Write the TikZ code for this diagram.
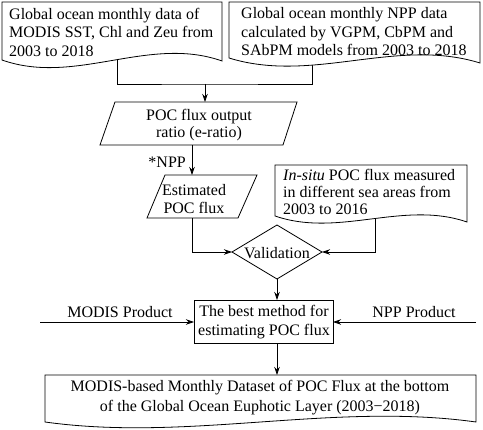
\documentclass[tikz,border=0pt]{standalone}
\usepackage{fontspec}
\setmainfont{Liberation Serif}
\usetikzlibrary{arrows.meta}
\pgfdeclarelayer{bg}
\pgfdeclarelayer{canvas}
\pgfsetlayers{canvas,bg,main}
% document shape: x0, x1, ytop, yleft-bottom, yright-bottom, wave height
\newcommand\docpath[6]{\draw[shp] (#1,#3) -- (#2,#3) -- (#2,#5) .. controls ({#1+2*(#2-#1)/3},{#5-#6}) and ({#1+(#2-#1)/3},{#4+#6}) .. (#1,#4) -- cycle;}
\begin{document}
\begin{tikzpicture}[x=1pt,y=-1pt,
  shp/.style={draw=black, line width=0.8pt, fill=white},
  con/.style={draw=black, line width=0.8pt},
  arr/.style={con, -{Stealth[length=8pt,width=5.5pt]}},
  txt/.style={font=\fontsize{16}{18.5}\selectfont, inner sep=0pt, align=left},
  ctxt/.style={font=\fontsize{16}{18}\selectfont, inner sep=0pt, align=center}]
\begin{pgfonlayer}{canvas}
\fill[white] (0,0) rectangle (483,430);
\end{pgfonlayer}
\useasboundingbox (0,0) rectangle (483,430);

% ---- documents ----
\docpath{2}{222}{2}{60}{61}{26}
\node[txt, anchor=west] (t1) at (9,32) {Global ocean monthly data of\\MODIS SST, Chl and Zeu from\\2003 to 2018};
\docpath{229}{480}{2}{58}{63}{26}
\node[txt, anchor=west] (t2) at (241,32) {Global ocean monthly NPP data\\calculated by VGPM, CbPM and\\SAbPM models from 2003 to 2018};
\docpath{275}{467}{165}{216}{222}{22}
\node[txt, anchor=west, font=\fontsize{16}{17}\selectfont] (t3) at (283,192) {\textit{In-situ} POC flux measured\\in different sea areas from\\2003 to 2016};
\docpath{45}{476}{375}{422}{422}{20}
\node[ctxt, font=\fontsize{16}{20}\selectfont] (t4) at (260,398) {MODIS-based Monthly Dataset of POC Flux at the bottom\\of the Global Ocean Euphotic Layer (2003−2018)};

% ---- parallelograms ----
\draw[shp] (115,102) -- (297,102) -- (283,145) -- (100,145) -- cycle;
\node[ctxt, font=\fontsize{16}{17}\selectfont] (p1) at (199,125) {POC flux output\\ratio (e-ratio)};
\draw[shp] (165,175) -- (257,175) -- (238,218) -- (147,218) -- cycle;
\node[ctxt] (p2) at (194,199) {Estimated\\POC flux};

% ---- diamond ----
\draw[shp] (277,225) -- (322,252) -- (277,279) -- (232,252) -- cycle;
\node[ctxt] (val) at (277,253) {Validation};

% ---- best method box ----
\draw[shp] (194,300) rectangle (333,343);
\node[ctxt, font=\fontsize{16}{19}\selectfont] (best) at (264,322) {The best method for\\estimating POC flux};

% ---- labels ----
\node[ctxt] (lm) at (120,312) {MODIS Product};
\node[ctxt] (ln) at (414,312) {NPP Product};
\node[ctxt, anchor=east] (lnpp) at (186,162) {*NPP};

% ---- coordinates ----
\coordinate (d1c) at (117,50);
\coordinate (d2c) at (312,50);
\coordinate (j1) at (205,84);
\coordinate (p1t) at (205,102);
\coordinate (p1b) at (192,145);
\coordinate (p2t) at (192,175);
\coordinate (p2b) at (192,218);
\coordinate (dl) at (232,252);
\coordinate (dr) at (322,252);
\coordinate (db) at (277,279);
\coordinate (d3c) at (375,210);
\coordinate (bt) at (277,300);
\coordinate (bl) at (194,322);
\coordinate (br) at (333,322);
\coordinate (bb) at (277,343);
\coordinate (d4t) at (277,375);
\coordinate (ms) at (40,322);
\coordinate (ns) at (476,322);

\begin{pgfonlayer}{bg}
\draw[con] (d1c) |- (j1) -| (d2c);
\draw[arr] (j1) -- (p1t);
\draw[arr] (p1b) -- (p2t);
\draw[arr] (p2b) |- (dl);
\draw[arr] (d3c) |- (dr);
\draw[arr] (db) -- (bt);
\draw[arr] (ms) -- (bl);
\draw[arr] (ns) -- (br);
\draw[arr] (bb) -- (d4t);
\end{pgfonlayer}
\end{tikzpicture}
\end{document}
